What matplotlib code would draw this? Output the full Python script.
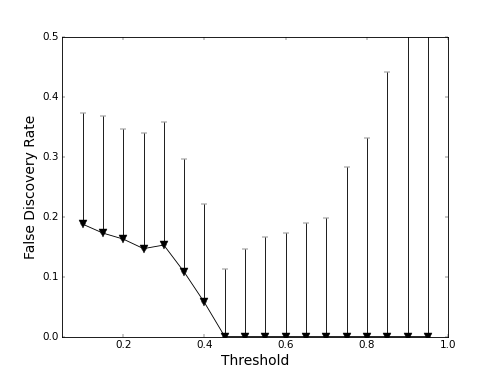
import numpy as np
import matplotlib
matplotlib.use('Agg')
import matplotlib.pyplot as plt

plt.style.use('classic')

# thresholds and false discovery rate (point) with upper error bound
thresholds = [0.10, 0.15, 0.20, 0.25, 0.30, 0.35, 0.40, 0.45, 0.50, 0.55,
              0.60, 0.65, 0.70, 0.75, 0.80, 0.85, 0.90, 0.95]
fdr = [0.188, 0.173, 0.163, 0.147, 0.153, 0.108, 0.057, 0.0, 0.0, 0.0,
       0.0, 0.0, 0.0, 0.0, 0.0, 0.0, 0.0, 0.0]
fdr_upper = [0.374, 0.368, 0.347, 0.340, 0.358, 0.296, 0.221, 0.113, 0.147, 0.166,
             0.173, 0.190, 0.199, 0.284, 0.332, 0.442, 0.60, 0.70]

x = np.array(thresholds)
y = np.array(fdr)
up = np.array(fdr_upper) - y
err = [np.zeros_like(y), up]

dpi = 62.25
fig = plt.figure(figsize=(498 / dpi, 374 / dpi), dpi=dpi, facecolor='white')
ax = fig.add_subplot(111)
ax.errorbar(x, y, yerr=err, fmt='v-', color='black', ecolor='black',
            markersize=10, linewidth=1, elinewidth=1, capsize=3)

ax.set_xlim(0.05, 1.0)
ax.set_ylim(0.0, 0.5)
ax.set_xticks([0.2, 0.4, 0.6, 0.8, 1.0])
ax.set_yticks([0.0, 0.1, 0.2, 0.3, 0.4, 0.5])
ax.set_xlabel('Threshold', fontsize=16)
ax.set_ylabel('False Discovery Rate', fontsize=16)

fig.savefig('out.png', dpi=dpi, facecolor='white')
